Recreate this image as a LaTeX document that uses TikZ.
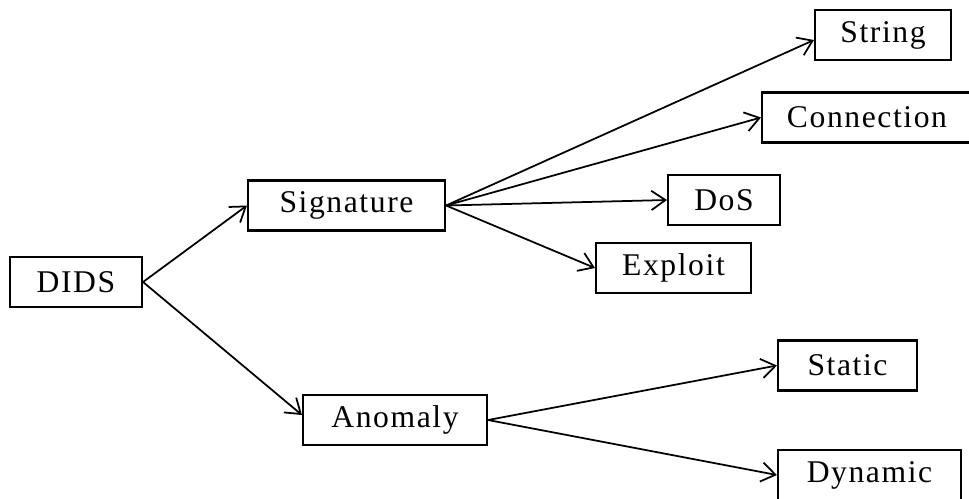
\documentclass[tikz,border=0pt]{standalone}
\usepackage{fontspec}
\setmainfont[LetterSpace=5]{Liberation Serif}
\usetikzlibrary{arrows.meta}
\begin{document}
\begin{tikzpicture}[x=0.02cm,y=-0.02cm,
    blk/.style={draw,line width=1.2pt,minimum height=1cm,inner sep=0pt,
        font=\fontsize{18}{21}\selectfont},
    arr/.style={line width=1pt,-{Straight Barb[length=8pt,width=11pt,line width=1pt]}}]
    \useasboundingbox (0,0) rectangle (969,498);
    \node[blk,minimum width=2.64cm] (dids) at (76,282) {DIDS};
    \node[blk,minimum width=3.94cm] (sig) at (346.5,205.5) {Signature};
    \node[blk,minimum width=3.68cm] (anom) at (395,420) {Anomaly};
    \node[blk,minimum width=2.72cm] (str) at (883,35) {String};
    \node[blk,minimum width=4.2cm] (conn) at (867,117.5) {Connection};
    \node[blk,minimum width=2.24cm] (dos) at (724,200) {DoS};
    \node[blk,minimum width=3.1cm] (expl) at (673.5,268) {Exploit};
    \node[blk,minimum width=2.78cm] (stat) at (847.5,365.5) {Static};
    \node[blk,minimum width=3.66cm] (dyn) at (869.5,475) {Dynamic};
    \draw[arr] (dids.east) -- (sig.west);
    \draw[arr] (dids.east) -- ([yshift=0.1cm]anom.west);
    \draw[arr] (sig.east) -- ([yshift=-0.1cm]str.west);
    \draw[arr] (sig.east) -- (conn.west);
    \draw[arr] (sig.east) -- (dos.west);
    \draw[arr] (sig.east) -- (expl.west);
    \draw[arr] (anom.east) -- (stat.west);
    \draw[arr] (anom.east) -- (dyn.west);
\end{tikzpicture}
\end{document}
